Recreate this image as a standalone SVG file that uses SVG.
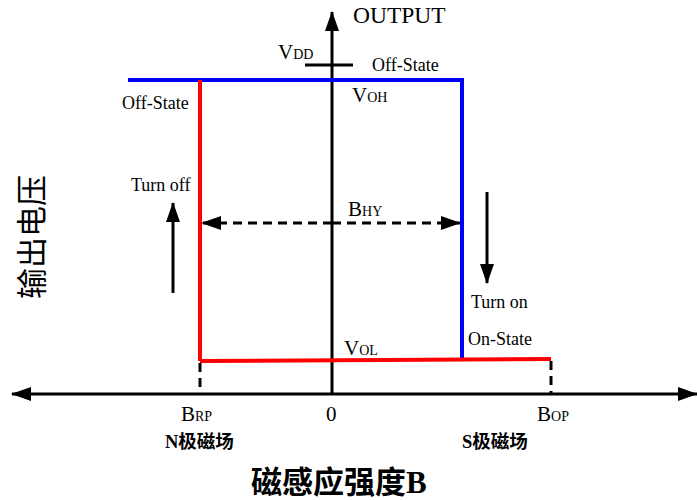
<svg xmlns="http://www.w3.org/2000/svg" width="697" height="500" viewBox="0 0 697 500">
<defs>
<style>
.t{font-family:"Liberation Serif","Noto Sans CJK SC",serif;fill:#000}
.cj{font-family:"Liberation Serif","Noto Sans CJK SC",serif;fill:#000}
.ax{stroke:#000;stroke-width:3;fill:none}
.ds{stroke:#000;stroke-width:3;fill:none;stroke-dasharray:9,6}
.bl{stroke:#0000ff;stroke-width:4;fill:none}
.rd{stroke:#ff0000;stroke-width:4;fill:none}
</style>
<marker id="big" markerWidth="20" markerHeight="14" refX="19" refY="7" orient="auto" markerUnits="userSpaceOnUse" viewBox="0 0 20 14">
<path d="M0,0 L20,7 L0,14 Z" fill="#000"/>
</marker>
</defs>
<rect width="697" height="500" fill="#fff"/>
<g id="connectors">
<line id="x-axis-right" class="ax" x1="332" y1="394" x2="697" y2="394" marker-end="url(#big)"/>
<line id="x-axis-left" class="ax" x1="332" y1="394" x2="12" y2="394" marker-end="url(#big)"/>
<line id="y-axis" class="ax" x1="332" y1="394" x2="332" y2="12" marker-end="url(#big)"/>
<line class="ax" x1="305" y1="65" x2="353" y2="65"/>
<polyline class="bl" points="128,80 462,80 462,358"/>
<line class="rd" x1="200" y1="80" x2="200" y2="361"/>
<line class="rd" x1="200" y1="361" x2="551" y2="359"/>
<line class="ds" x1="200" y1="363" x2="200" y2="393"/>
<line class="ds" x1="551" y1="361" x2="551" y2="393"/>
<line class="ds" x1="332" y1="223" x2="460" y2="223" marker-end="url(#big)"/>
<line class="ds" x1="332" y1="223" x2="202" y2="223" marker-end="url(#big)"/>
<line class="ax" x1="173" y1="293" x2="173" y2="203" marker-end="url(#big)"/>
<line class="ax" x1="487" y1="192" x2="487" y2="283" marker-end="url(#big)"/>
</g>
<g id="labels">
<text class="t" x="353" y="23" font-size="23.5">OUTPUT</text>
<text class="t" x="278" y="59" font-size="21">V<tspan font-size="14">DD</tspan></text>
<text class="t" x="372" y="71" font-size="18">Off-State</text>
<text class="t" x="352" y="102" font-size="21">V<tspan font-size="14">OH</tspan></text>
<text class="t" x="122" y="109" font-size="18">Off-State</text>
<text class="t" x="131" y="191" font-size="18">Turn off</text>
<text class="t" x="348" y="216" font-size="21">B<tspan font-size="14">HY</tspan></text>
<text class="t" x="471" y="308" font-size="18">Turn on</text>
<text class="t" x="468" y="345" font-size="18">On-State</text>
<text class="t" x="344" y="355" font-size="21">V<tspan font-size="14">OL</tspan></text>
<text class="t" x="181" y="421" font-size="21">B<tspan font-size="14">RP</tspan></text>
<text class="t" x="326" y="421" font-size="21">0</text>
<text class="t" x="537" y="421" font-size="21">B<tspan font-size="14">OP</tspan></text>
<text class="cj" x="165" y="448" font-size="18.5" font-weight="bold">N极磁场</text>
<text class="cj" x="462" y="448" font-size="18.5" font-weight="bold">S极磁场</text>
<text class="cj" x="251" y="493" font-size="31" font-weight="bold">磁感应强度B</text>
<text class="cj" x="0" y="0" font-size="31" text-anchor="middle" transform="translate(43,237) rotate(-90)">输出电压</text>
</g>
</svg>
